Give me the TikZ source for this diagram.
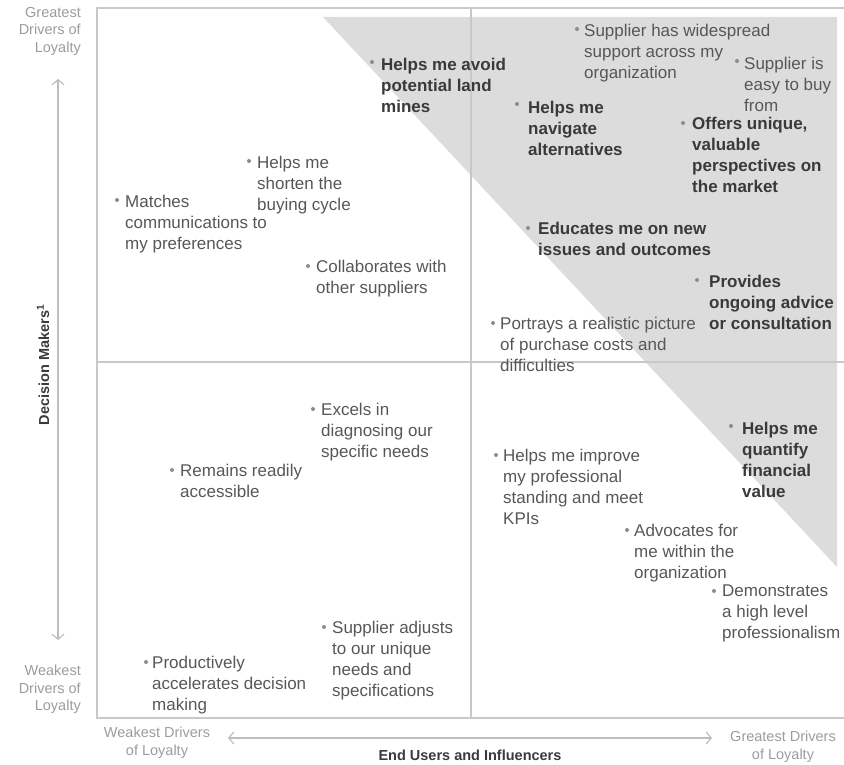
\documentclass[tikz,border=0pt]{standalone}
\usepackage{fontspec}
\setmainfont{Liberation Sans}
\usetikzlibrary{arrows.meta}

\definecolor{framegray}{HTML}{C8C8C8}
\definecolor{zonegray}{HTML}{DCDCDC}
\definecolor{labelgray}{HTML}{9C9C9C}
\definecolor{bodygray}{HTML}{575757}
\definecolor{boldgray}{HTML}{3A3A3A}
\definecolor{dotgray}{HTML}{8C8C8C}
\definecolor{arrowgray}{HTML}{BDBDBD}

\tikzset{
  driver/.style={anchor=north west, inner sep=0pt, align=left, text=bodygray,
    font=\fontsize{17}{21}\selectfont},
  keydriver/.style={driver, text=boldgray, font=\fontsize{17}{21}\selectfont\bfseries},
  dot/.style={circle, fill=dotgray, inner sep=0pt, minimum size=4pt},
  endlabel/.style={text=labelgray, inner sep=0pt, font=\fontsize{14.5}{17.5}\selectfont},
  axistitle/.style={text=boldgray, inner sep=0pt, font=\fontsize{14.5}{17.5}\selectfont\bfseries},
  gridline/.style={draw=framegray, line width=1.5pt},
  axisarrow/.style={draw=arrowgray, line width=1.2pt,
    {Straight Barb[length=5pt,width=12pt]}-{Straight Barb[length=5pt,width=12pt]}},
}

\begin{document}
\begin{tikzpicture}[x=1pt,y=-1pt]
\useasboundingbox (0,0) rectangle (844,765);

% shaded zone of strongest drivers
\fill[zonegray] (323,17) -- (837,17) -- (837,567) -- cycle;

% frame and quadrant dividers
\draw[framegray, line width=2pt] (844,8) -- (97,8) -- (97,718) -- (844,718);
\draw[gridline] (471,8) -- (471,718);
\draw[gridline] (97,362) -- (844,362);

% axis arrows
\coordinate (vtop) at (58,79);
\coordinate (vbot) at (58,640);
\coordinate (hleft) at (228,738);
\coordinate (hright) at (712,738);
\draw[axisarrow] (vtop) -- (vbot);
\draw[axisarrow] (hleft) -- (hright);

% axis end labels
\node[endlabel, align=right, anchor=north east] (ygreat) at (81,7) {Greatest\\Drivers of\\Loyalty};
\node[endlabel, align=right, anchor=north east] (yweak) at (81,665) {Weakest\\Drivers of\\Loyalty};
\node[endlabel, align=center, anchor=north] (xweak) at (157,727) {Weakest Drivers\\of Loyalty};
\node[endlabel, align=center, anchor=north] (xgreat) at (783,731) {Greatest Drivers\\of Loyalty};

% axis titles
\node[axistitle] (xtitle) at (470,755) {End Users and Influencers};
\node[axistitle, rotate=90] (ytitle) at (43,365) {Decision Makers\textsuperscript{1}};

% upper-left quadrant
\node[dot] (d6) at (249,161) {};
\node[driver] (t6) at (257,155.5) {Helps me\\shorten the\\buying cycle};
\node[dot] (d7) at (117,200) {};
\node[driver] (t7) at (125,194.5) {Matches\\communications to\\my preferences};
\node[dot] (d9) at (308,266) {};
\node[driver] (t9) at (316,259.5) {Collaborates with\\other suppliers};

% upper-right quadrant
\node[dot] (d1) at (372,62) {};
\node[keydriver] (t1) at (381,57.5) {Helps me avoid\\potential land\\mines};
\node[dot] (d2) at (577,29) {};
\node[driver] (t2) at (584,23.5) {Supplier has widespread\\support across my\\organization};
\node[dot] (d3) at (737,61) {};
\node[driver] (t3) at (744,56.5) {Supplier is\\easy to buy\\from};
\node[dot] (d4) at (517,104) {};
\node[keydriver] (t4) at (528,100.5) {Helps me\\navigate\\alternatives};
\node[dot] (d5) at (683,123) {};
\node[keydriver] (t5) at (692,116.5) {Offers unique,\\valuable\\perspectives on\\the market};
\node[dot] (d8) at (528,228) {};
\node[keydriver] (t8) at (538,221.5) {Educates me on new\\issues and outcomes};
\node[dot] (d10) at (697,280) {};
\node[keydriver] (t10) at (709,274.5) {Provides\\ongoing advice\\or consultation};
\node[dot] (d11) at (493,323) {};
\node[driver] (t11) at (500,316.5) {Portrays a realistic picture\\of purchase costs and\\difficulties};

% lower-left quadrant
\node[dot] (d12) at (313,409) {};
\node[driver] (t12) at (321,402.5) {Excels in\\diagnosing our\\specific needs};
\node[dot] (d14) at (172,470) {};
\node[driver] (t14) at (180,463.5) {Remains readily\\accessible};
\node[dot] (d18) at (324,627) {};
\node[driver] (t18) at (332,620.5) {Supplier adjusts\\to our unique\\needs and\\specifications};
\node[dot] (d19) at (146,662) {};
\node[driver] (t19) at (152,655.5) {Productively\\accelerates decision\\making};

% lower-right quadrant
\node[dot] (d13) at (731,426) {};
\node[keydriver] (t13) at (742,421.5) {Helps me\\quantify\\financial\\value};
\node[dot] (d15) at (496,455) {};
\node[driver] (t15) at (503,448.5) {Helps me improve\\my professional\\standing and meet\\KPIs};
\node[dot] (d16) at (627,530) {};
\node[driver] (t16) at (634,523.5) {Advocates for\\me within the\\organization};
\node[dot] (d17) at (714,591) {};
\node[driver] (t17) at (722,584.5) {Demonstrates\\a high level\\professionalism};
\end{tikzpicture}
\end{document}
